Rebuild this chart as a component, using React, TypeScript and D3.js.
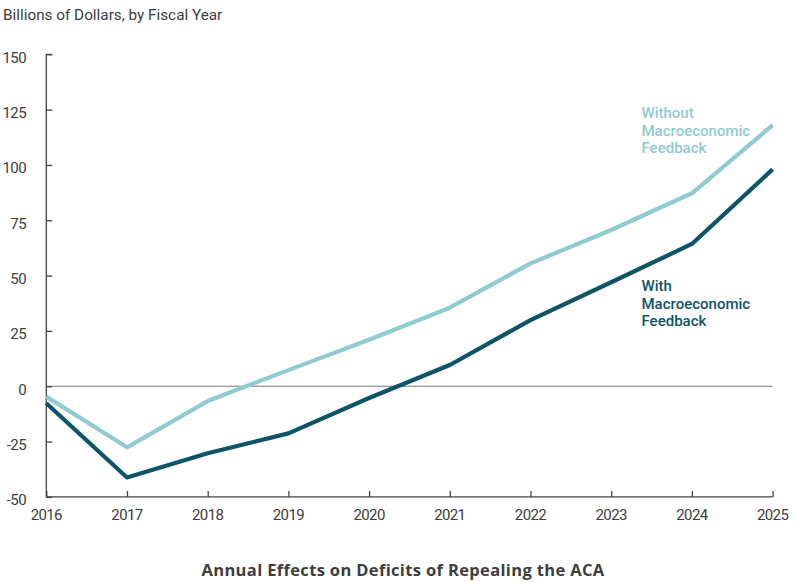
import React, { useEffect, useRef } from 'react';
import * as d3 from 'd3';

const YEARS = [2016, 2017, 2018, 2019, 2020, 2021, 2022, 2023, 2024, 2025];
const WITHOUT_FEEDBACK = [-4.7, -27.6, -6.7, 7.3, 21, 35.5, 55.5, 70.6, 87.2, 118];
const WITH_FEEDBACK = [-7.7, -41.2, -30.3, -21.3, -5.3, 9.6, 29.9, 47, 64.3, 98];
const Y_TICKS = [-50, -25, 0, 25, 50, 75, 100, 125, 150];

const LIGHT = '#90cbd2';
const DARK = '#0d5469';
const TEXT = '#3d3d3d';
const FONT = 'Roboto, "Noto Sans", sans-serif';

const W = 797;
const H = 582;

export default function App() {
  const svgRef = useRef<SVGSVGElement>(null);

  useEffect(() => {
    if (!svgRef.current) return;
    const svg = d3.select(svgRef.current);
    svg.selectAll('*').remove();

    const x = d3.scaleLinear().domain([2016, 2025]).range([46.3, 772.6]);
    const y = d3.scaleLinear().domain([-50, 150]).range([496.9, 54.3]);

    svg.append('text')
      .attr('x', 3)
      .attr('y', 20)
      .attr('fill', TEXT)
      .attr('font-family', FONT)
      .attr('font-size', 15.3)
      .text('Billions of Dollars, by Fiscal Year');

    // zero line
    svg.append('line')
      .attr('x1', x(2016)).attr('x2', x(2025))
      .attr('y1', y(0)).attr('y2', y(0))
      .attr('stroke', '#7a7a7a')
      .attr('stroke-width', 1);

    // y axis, ticks pointing inward
    const yAxis = svg.append('g')
      .attr('transform', `translate(${x(2016)},0)`)
      .call(d3.axisRight(y).tickValues(Y_TICKS).tickSize(6).tickFormat(() => ''));
    yAxis.select('.domain').attr('stroke', '#444').attr('stroke-width', 1.3)
      .attr('d', `M6,${y(150)}H0V${y(-50)}`);
    yAxis.selectAll('.tick line').attr('stroke', '#444').attr('stroke-width', 1.3);

    svg.append('g').selectAll('text')
      .data(Y_TICKS)
      .enter()
      .append('text')
      .attr('x', 26)
      .attr('y', (d) => y(d) + 8.5)
      .attr('text-anchor', 'end')
      .attr('fill', TEXT)
      .attr('font-family', FONT)
      .attr('font-size', 15)
      .attr('letter-spacing', -0.6)
      .text((d) => d);

    // x axis
    const xAxis = svg.append('g')
      .attr('transform', `translate(0,${y(-50)})`)
      .call(d3.axisTop(x).tickValues(YEARS).tickSize(6).tickFormat(() => ''));
    xAxis.select('.domain').attr('stroke', '#444').attr('stroke-width', 1.3)
      .attr('d', `M${x(2016)},0H${x(2025)}`);
    xAxis.selectAll('.tick line').attr('stroke', '#444').attr('stroke-width', 1.3);

    svg.append('g').selectAll('text')
      .data(YEARS)
      .enter()
      .append('text')
      .attr('x', (d) => x(d))
      .attr('y', 520)
      .attr('text-anchor', 'middle')
      .attr('fill', TEXT)
      .attr('font-family', FONT)
      .attr('font-size', 15)
      .attr('letter-spacing', -0.6)
      .text((d) => d);

    const line = d3.line<number>()
      .x((_, i) => x(YEARS[i]))
      .y((d) => y(d));

    svg.append('path')
      .datum(WITHOUT_FEEDBACK)
      .attr('d', line)
      .attr('fill', 'none')
      .attr('stroke', LIGHT)
      .attr('stroke-width', 4.2)
      .attr('stroke-linejoin', 'round');

    svg.append('path')
      .datum(WITH_FEEDBACK)
      .attr('d', line)
      .attr('fill', 'none')
      .attr('stroke', DARK)
      .attr('stroke-width', 4.2)
      .attr('stroke-linejoin', 'round');

    const labels = [
      { lines: ['Without', 'Macroeconomic', 'Feedback'], color: LIGHT, y0: 118 },
      { lines: ['With', 'Macroeconomic', 'Feedback'], color: DARK, y0: 291 },
    ];
    labels.forEach((l) => {
      const t = svg.append('text')
        .attr('fill', l.color)
        .attr('font-family', FONT)
        .attr('font-weight', 500)
        .attr('font-size', 15);
      l.lines.forEach((s, i) => {
        t.append('tspan').attr('x', 641.5).attr('y', l.y0 + i * 17.6).text(s);
      });
    });

    svg.append('text')
      .attr('x', 403)
      .attr('y', 576)
      .attr('text-anchor', 'middle')
      .attr('fill', TEXT)
      .attr('font-family', '"Open Sans", Roboto, sans-serif')
      .attr('font-weight', 'bold')
      .attr('font-size', 16.5)
      .attr('letter-spacing', 0.35)
      .text('Annual Effects on Deficits of Repealing the ACA');
  }, []);

  return (
    <svg
      ref={svgRef}
      width={W}
      height={H}
      viewBox={`0 0 ${W} ${H}`}
      style={{ position: 'absolute', left: 0, top: 0, background: '#fff' }}
    />
  );
}
